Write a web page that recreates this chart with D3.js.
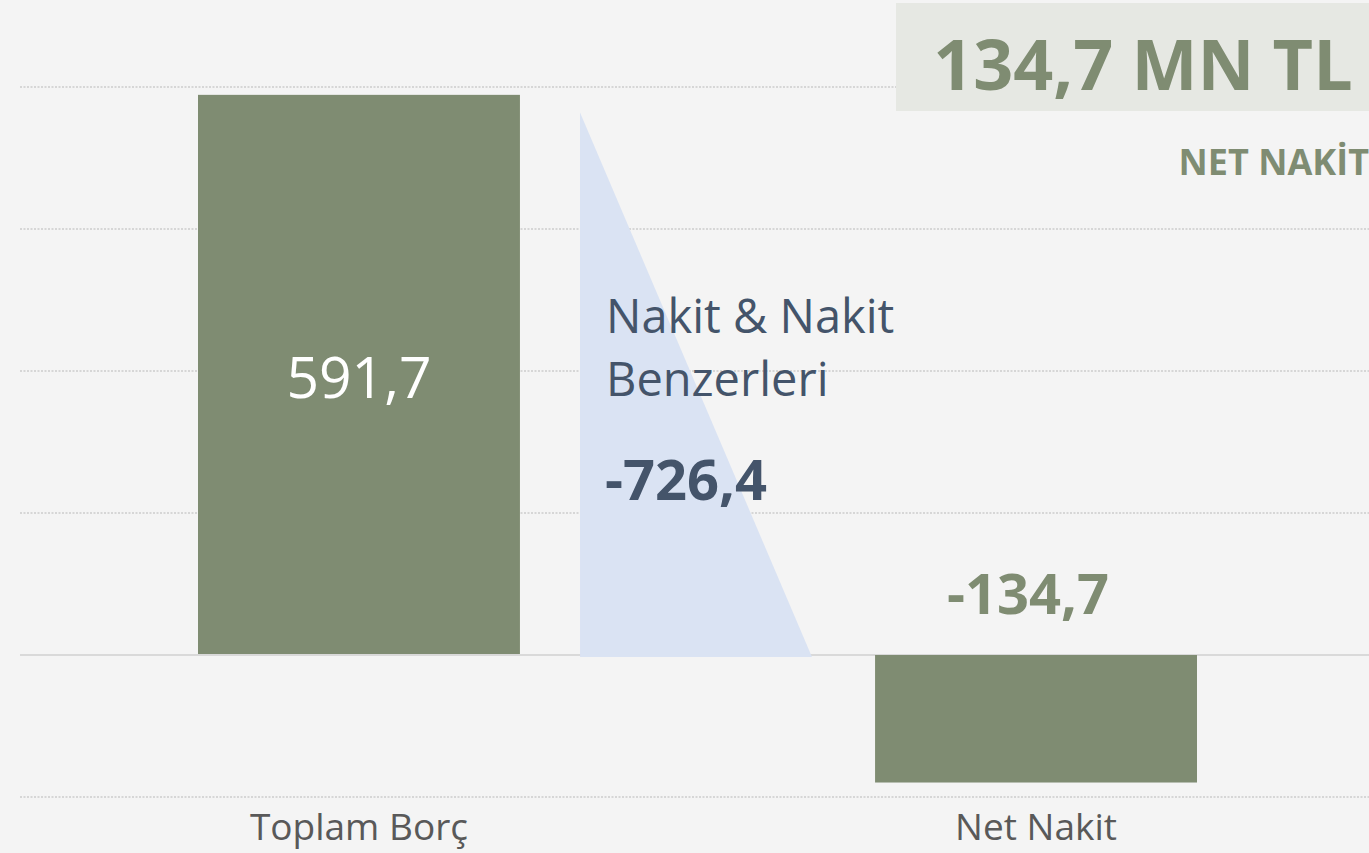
<!DOCTYPE html>
<html><head><meta charset="utf-8">
<script src="https://cdn.jsdelivr.net/npm/d3@7"></script>
<style>
html,body{margin:0;padding:0;background:#f4f4f4;overflow:hidden}
svg{display:block}
text{font-family:"Open Sans",sans-serif}
</style></head><body>
<svg id="c" width="1369" height="853"></svg>
<script>
// data
const categories = ["Toplam Borç", "Nakit & Nakit Benzerleri", "Net Nakit"];
const barValues = [591.7, null, -134.7];
const cashValue = -726.4;
const cashTop = 573;          // top of the decorative triangle (value units)
const tickValues = [-150, 0, 150, 300, 450, 600];
const valueLabels = ["591,7", "-726,4", "-134,7"];
const cashLabelLines = ["Nakit & Nakit", "Benzerleri"];
const axisLabels = ["Toplam Borç", "", "Net Nakit"];
const headline = "134,7 MN TL";
const subHeadline = "NET NAKİT";

const W = 1369, H = 853;
const svg = d3.select("#c");
svg.append("rect").attr("width", W).attr("height", H).attr("fill", "#f4f4f4");

const x = d3.scaleBand().domain(categories).range([198, 1197]).paddingInner(0.049).paddingOuter(0);
const y = d3.scaleLinear().domain([-150, 600]).range([797, 87]);

const green = "#7f8c72";
const grid = svg.append("g");
tickValues.forEach(v => {
  grid.append("line")
    .attr("x1", 20).attr("x2", W)
    .attr("y1", y(v)).attr("y2", y(v))
    .attr("stroke", v === 0 ? "#d9d9d9" : "#d6d6d6")
    .attr("stroke-width", v === 0 ? 2 : 2)
    .attr("stroke-dasharray", v === 0 ? null : "2,1.5");
});

// bars
categories.forEach((c, i) => {
  const v = barValues[i];
  if (v == null) return;
  svg.append("rect")
    .attr("x", x(c)).attr("width", x.bandwidth())
    .attr("y", y(Math.max(0, v))).attr("height", Math.abs(y(v) - y(0)))
    .attr("fill", green);
});

// decorative triangle for cash
const cc = categories[1];
const tx0 = x(cc) + 43.5, tx1 = x(cc) + x.bandwidth() - 46.5;
svg.append("path")
  .attr("d", d3.line()([[tx0, y(cashTop)], [tx0, y(0) + 2], [tx1, y(0) + 2]]) + "Z")
  .attr("fill", "#dae3f3");

// baseline drawn on top
svg.append("line").attr("x1", 20).attr("x2", tx0).attr("y1", y(0)).attr("y2", y(0))
  .attr("stroke", "#d9d9d9").attr("stroke-width", 2);

// labels
svg.append("text").attr("x", x(categories[0]) + x.bandwidth() / 2).attr("y", 398)
  .attr("text-anchor", "middle").attr("fill", "#ffffff").attr("font-size", 57)
  .text(valueLabels[0]);

cashLabelLines.forEach((t, i) => {
  svg.append("text").attr("x", tx0 + 26).attr("y", 333 + i * 63)
    .attr("fill", "#44546a").attr("font-size", 47).text(t);
});
svg.append("text").attr("x", tx0 + 25).attr("y", 500)
  .attr("fill", "#44546a").attr("font-size", 56).attr("font-weight", 700).text(valueLabels[1]);

svg.append("text").attr("x", x(categories[2]) + x.bandwidth() / 2 - 8).attr("y", 614)
  .attr("text-anchor", "middle").attr("fill", green).attr("font-size", 56).attr("font-weight", 700)
  .text(valueLabels[2]);

// axis labels
categories.forEach((c, i) => {
  if (!axisLabels[i]) return;
  svg.append("text").attr("x", x(c) + x.bandwidth() / 2).attr("y", 840)
    .attr("text-anchor", "middle").attr("fill", "#595959").attr("font-size", 37)
    .text(axisLabels[i]);
});

// headline box
svg.append("rect").attr("x", 896).attr("y", 3).attr("width", W - 896).attr("height", 108).attr("fill", "#e6e8e3");
svg.append("text").attr("x", 1143).attr("y", 90).attr("text-anchor", "middle")
  .attr("fill", green).attr("font-size", 70).attr("font-weight", 700).text(headline);
svg.append("text").attr("x", 1369).attr("y", 175).attr("text-anchor", "end")
  .attr("fill", green).attr("font-size", 36).attr("font-weight", 700).text(subHeadline);
</script>
</body></html>
